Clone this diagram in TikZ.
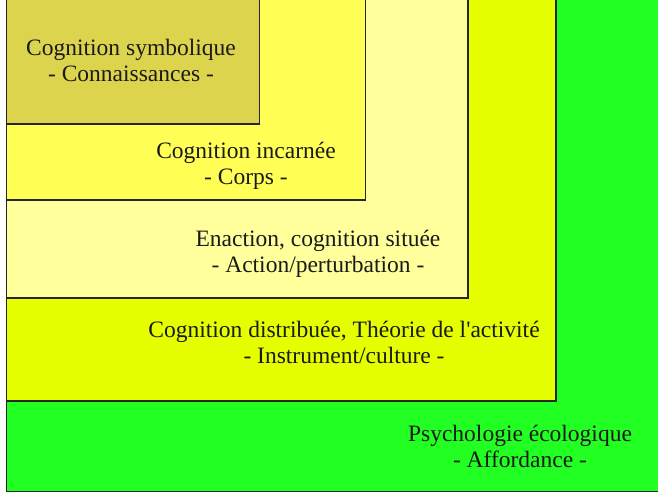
\documentclass[tikz,border=0pt]{standalone}
\usepackage{fontspec}
\setmainfont{Liberation Serif}
\newcommand{\straightapos}{\XeTeXglyph\XeTeXcharglyph"27\relax}
\definecolor{cgreen}{HTML}{22FF22}
\definecolor{cdist}{HTML}{E5FF00}
\definecolor{cenac}{HTML}{FFFF9C}
\definecolor{cinc}{HTML}{FFFF55}
\definecolor{csym}{HTML}{DDD44E}
\definecolor{ctext}{HTML}{1A1A1A}
\begin{document}
\begin{tikzpicture}[x=1pt,y=-1pt,
  layer/.style={draw=black!85, line width=1.6pt},
  lbl/.style={align=center, inner sep=0pt, text=ctext, font=\fontsize{23.5}{26}\selectfont}]
\useasboundingbox (0,0) rectangle (658,493);
\fill[white] (0,0) rectangle (658,493);
\clip (0,0) rectangle (658,493);
\draw[layer, fill=cgreen] (6.5,-10) rectangle (670,491.5);
\draw[layer, fill=cdist] (6.5,-10) rectangle (556,401);
\draw[layer, fill=cenac] (6.5,-10) rectangle (468,298);
\draw[layer, fill=cinc] (6.5,-10) rectangle (365.5,200);
\draw[layer, fill=csym] (6.5,-10) rectangle (259.5,124);
\node[lbl] (sym) at (131,60) {Cognition symbolique\\- Connaissances -};
\node[lbl] (inc) at (246,166) {Cognition incarnée\\- Corps -};
\node[lbl] (enac) at (318,254) {Enaction, cognition située\\- Action/perturbation -};
\node[lbl] (dist) at (344,342) {Cognition distribuée, Théorie de l\straightapos activité\\- Instrument/culture -};
\node[lbl] (eco) at (520,446) {Psychologie écologique\\- Affordance -};
\end{tikzpicture}
\end{document}
